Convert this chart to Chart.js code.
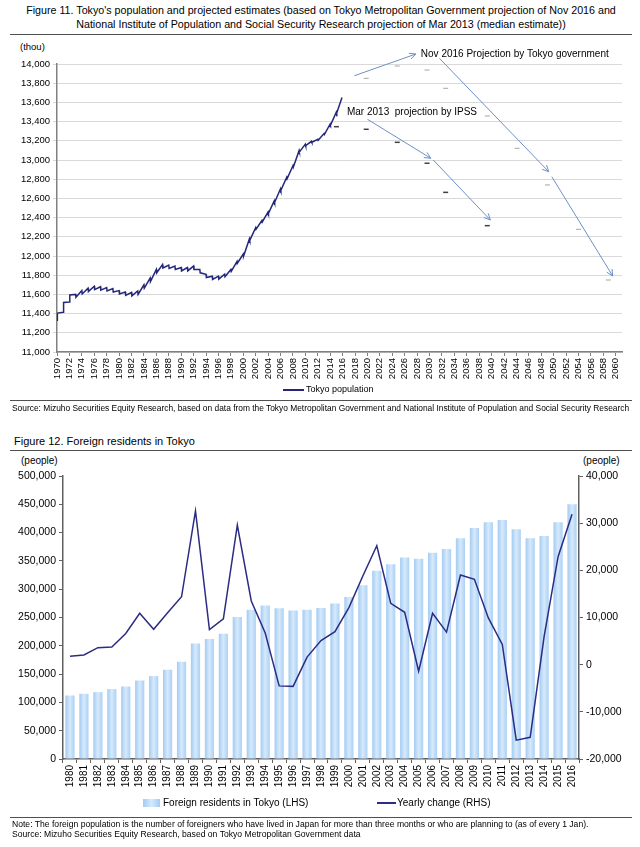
<!DOCTYPE html>
<html>
<head>
<meta charset="utf-8">
<script src="https://cdn.jsdelivr.net/npm/chart.js@4.4.0/dist/chart.umd.min.js"></script>
<style>
body { margin: 0; background: #fff; font-family: "Liberation Sans", Arial, sans-serif; color: #000; }
#page { position: relative; width: 640px; height: 847px; overflow: hidden; }
.txt { position: absolute; white-space: nowrap; }
.rule { position: absolute; left: 10px; width: 622px; height: 0; border-top: 1px solid #505050; }
canvas { position: absolute; left: 0; }
.swatch { position: absolute; }
</style>
</head>
<body>
<div id="page">
  <div class="txt" style="left:0;width:642px;top:3px;text-align:center;font-size:10.7px;line-height:14px;">Figure 11. Tokyo's population and projected estimates (based on Tokyo Metropolitan Government projection of Nov 2016 and<br>National Institute of Population and Social Security Research projection of Mar 2013 (median estimate))</div>
  <div class="rule" style="top:34px"></div>
  <div class="txt" style="left:20px;top:41px;font-size:9.5px;">(thou)</div>
  <canvas id="popChart" width="640" height="352" style="top:36px"></canvas>
  <div class="swatch" style="left:283px;top:389px;width:21px;height:2px;background:#23267a;"></div>
  <div class="txt" style="left:306px;top:384px;font-size:9px;">Tokyo population</div>
  <div class="rule" style="top:400px;border-top-width:1.5px;"></div>
  <div class="txt" style="left:12px;top:403px;font-size:8.4px;">Source: Mizuho Securities Equity Research, based on data from the Tokyo Metropolitan Government and National Institute of Population and Social Security Research</div>

  <div class="txt" style="left:14px;top:435px;font-size:11px;">Figure 12. Foreign residents in Tokyo</div>
  <div class="rule" style="top:450px"></div>
  <div class="txt" style="left:21px;top:455px;font-size:10px;">(people)</div>
  <div class="txt" style="left:583px;top:455px;font-size:10px;">(people)</div>
  <canvas id="foreignChart" width="640" height="346" style="top:452px"></canvas>
  <div class="swatch" style="left:143px;top:799px;width:17px;height:8px;background:linear-gradient(90deg,#a3cbf2,#d5e9fc,#a3cbf2);"></div>
  <div class="txt" style="left:163px;top:797px;font-size:10px;">Foreign residents in Tokyo (LHS)</div>
  <div class="swatch" style="left:377px;top:802px;width:19px;height:2px;background:#2c2c84;"></div>
  <div class="txt" style="left:397px;top:797px;font-size:10px;">Yearly change (RHS)</div>
  <div class="rule" style="top:817px;border-top-width:1.5px;"></div>
  <div class="txt" style="left:12px;top:819px;font-size:8.6px;">Note: The foreign population is the number of foreigners who have lived in Japan for more than three months or who are planning to (as of every 1 Jan).</div>
  <div class="txt" style="left:12px;top:829px;font-size:8.6px;">Source: Mizuho Securities Equity Research, based on Tokyo Metropolitan Government data</div>
</div>
<script>
// Figure 11: Tokyo population (thou), value just before and just after the spring move season, per year
var popYears = [1970, 1971, 1972, 1973, 1974, 1975, 1976, 1977, 1978, 1979,
                1980, 1981, 1982, 1983, 1984, 1985, 1986, 1987, 1988, 1989,
                1990, 1991, 1992, 1993, 1994, 1995, 1996, 1997, 1998, 1999,
                2000, 2001, 2002, 2003, 2004, 2005, 2006, 2007, 2008, 2009,
                2010, 2011, 2012, 2013, 2014, 2015];
var popPre = [11330, 11415, 11520, 11600, 11640, 11665, 11685, 11680, 11670, 11660,
              11640, 11625, 11620, 11635, 11700, 11770, 11860, 11910, 11905, 11895,
              11880, 11880, 11895, 11860, 11810, 11790, 11790, 11810, 11860, 11945,
              12020, 12180, 12295, 12370, 12460, 12575, 12700, 12820, 12940, 13100,
              13165, 13195, 13215, 13275, 13375, 13500];
var popPost = [11405, 11515, 11595, 11570, 11605, 11630, 11650, 11645, 11635, 11625,
               11605, 11590, 11585, 11600, 11665, 11735, 11825, 11875, 11870, 11860,
               11845, 11845, 11860, 11825, 11775, 11755, 11760, 11785, 11840, 11925,
               12000, 12165, 12280, 12355, 12445, 12560, 12685, 12805, 12925, 13085,
               13150, 13185, 13205, 13265, 13365, 13490];
var popLastYear = 2015.9;
var popLast = 13650;

// projections (thou)
var tokyoProjYears = [2019.8, 2024.8, 2029.6, 2032.6, 2039.3, 2044.1, 2049.0, 2054.0, 2058.8];
var tokyoProj = [13851, 13979, 13937, 13747, 13458, 13122, 12740, 12278, 11750];
var ipssYears = [2015.0, 2019.8, 2024.8, 2029.6, 2032.6, 2039.3];
var ipssProj = [13347, 13320, 13184, 12966, 12663, 12316];

// annotation arrows [fromYear, fromValue, toYear, toValue]
var arrowPaths = [
    [2017.9, 13878, 2027.8, 14104],
    [2031.6, 14059, 2049.2, 12878],
    [2049.7, 12826, 2059.5, 11792],
    [2020.0, 13424, 2030.2, 13018],
    [2030.6, 13000, 2039.8, 12375]
];
var arrowNotes = [
    { text: "Nov 2016 Projection by Tokyo government", x: 2028.6, y: 14104 },
    { text: "Mar 2013  projection by IPSS", x: 2016.7, y: 13500 }
];

// Figure 12: foreign residents in Tokyo
var fyYears = ["1980", "1981", "1982", "1983", "1984", "1985", "1986", "1987", "1988", "1989",
               "1990", "1991", "1992", "1993", "1994", "1995", "1996", "1997", "1998", "1999",
               "2000", "2001", "2002", "2003", "2004", "2005", "2006", "2007", "2008", "2009",
               "2010", "2011", "2012", "2013", "2014", "2015", "2016"];
var foreignResidents = [112200, 115200, 118200, 123500, 128100, 138700, 146500, 157600, 171700, 204000,
                        211800, 221100, 251100, 263500, 271100, 266500, 262200, 263500, 267000, 274600,
                        286400, 307000, 332800, 344100, 355800, 354000, 364600, 371100, 390000, 408200,
                        418200, 422300, 405900, 390000, 394000, 418200, 450000];
var yearlyChange = [1770, 2060, 3600, 3760, 6600, 10900, 7500, 11000, 14400, 32600,
                    7450, 9700, 29600, 13500, 6700, -4500, -4600, 1600, 5100, 7000,
                    12100, 18800, 25200, 13000, 11100, -1400, 10900, 6900, 19000, 18100,
                    9900, 4300, -16000, -15400, 6000, 22900, 31900];

var tickFont = { family: "Liberation Sans", size: 9.5 };
var navy = "#23267a";

function _each(arr, fn) { for (var i = 0; i < arr.length; i++) fn(arr[i], i); }

function pairs(xs, ys) {
    var out = [];
    _each(xs, function(v, i) { out.push({ x: v, y: ys[i] }); });
    return out;
}

// build the monthly-looking line from the before/after pairs
var popPoints = [];
_each(popYears, function(yr, i) {
    popPoints.push({ x: yr, y: popPre[i] });
    popPoints.push({ x: yr + 0.06, y: popPost[i] });
});
popPoints.push({ x: popLastYear, y: popLast });

var arrowPlugin = {
    id: "projArrows",
    afterDatasetsDraw: function(chart) {
        var ctx = chart.ctx, xs = chart.scales.x, ys = chart.scales.y;
        ctx.save();
        ctx.strokeStyle = "#6f8fc6";
        ctx.lineWidth = 1;
        _each(arrowPaths, function(a) {
            var x1 = xs.getPixelForValue(a[0]), y1 = ys.getPixelForValue(a[1]);
            var x2 = xs.getPixelForValue(a[2]), y2 = ys.getPixelForValue(a[3]);
            var ang = Math.atan2(y2 - y1, x2 - x1);
            ctx.beginPath();
            ctx.moveTo(x1, y1);
            ctx.lineTo(x2, y2);
            ctx.moveTo(x2 - 7 * Math.cos(ang - 0.45), y2 - 7 * Math.sin(ang - 0.45));
            ctx.lineTo(x2, y2);
            ctx.lineTo(x2 - 7 * Math.cos(ang + 0.45), y2 - 7 * Math.sin(ang + 0.45));
            ctx.stroke();
        });
        ctx.fillStyle = "#000";
        ctx.font = '10px "Liberation Sans"';
        ctx.textBaseline = "middle";
        _each(arrowNotes, function(n) {
            ctx.fillText(n.text, xs.getPixelForValue(n.x), ys.getPixelForValue(n.y));
        });
        ctx.restore();
    }
};

new Chart(document.getElementById("popChart"), {
    type: "line",
    data: {
        datasets: [
            {
                label: "Tokyo population",
                data: popPoints,
                borderColor: navy,
                borderWidth: 1.5,
                pointRadius: 0,
                tension: 0
            },
            {
                label: "Nov 2016 Projection by Tokyo government",
                data: pairs(tokyoProjYears, tokyoProj),
                showLine: false,
                pointStyle: "line",
                pointRadius: 2.5,
                borderColor: "#a6a6a6",
                pointBorderWidth: 1
            },
            {
                label: "Mar 2013 projection by IPSS",
                data: pairs(ipssYears, ipssProj),
                showLine: false,
                pointStyle: "line",
                pointRadius: 2.5,
                borderColor: "#404040",
                pointBorderWidth: 1.5
            }
        ]
    },
    options: {
        responsive: false,
        animation: false,
        layout: { padding: { top: 28, right: 18, left: 0, bottom: 0 } },
        plugins: { legend: { display: false }, tooltip: { enabled: false } },
        scales: {
            x: {
                type: "linear",
                min: 1970,
                max: 2061,
                afterFit: function(scale) { scale.height = 36; },
                grid: { drawOnChartArea: false, tickLength: 4, color: "#808080" },
                border: { color: "#808080", width: 1.5 },
                ticks: {
                    stepSize: 2,
                    includeBounds: false,
                    autoSkip: false,
                    maxRotation: 90,
                    minRotation: 90,
                    padding: 2,
                    color: "#000",
                    font: tickFont,
                    callback: function(v) { return String(v); }
                }
            },
            y: {
                min: 11000,
                max: 14000,
                afterFit: function(scale) { scale.width = 57; },
                grid: { color: "#d9d9d9", tickLength: 4 },
                border: { color: "#808080", width: 1.5 },
                ticks: {
                    stepSize: 200,
                    padding: 3,
                    color: "#000",
                    font: tickFont,
                    callback: function(v) { return v.toLocaleString("en-US"); }
                }
            }
        }
    },
    plugins: [arrowPlugin]
});

var barFont = { family: "Liberation Sans", size: 10.5 };

// light-blue bars shaded across their width, like the original
function barShade(context) {
    var chart = context.chart;
    if (!chart.chartArea || !chart.scales.x) return "#b5d6f6";
    var xc = chart.scales.x.getPixelForValue(context.dataIndex);
    var g = chart.ctx.createLinearGradient(xc - 5, 0, xc + 5, 0);
    g.addColorStop(0, "#9fc8f1");
    g.addColorStop(0.5, "#d6eafc");
    g.addColorStop(1, "#a8cef3");
    return g;
}

new Chart(document.getElementById("foreignChart"), {
    type: "bar",
    data: {
        labels: fyYears,
        datasets: [
            {
                type: "line",
                label: "Yearly change (RHS)",
                data: yearlyChange,
                yAxisID: "y1",
                borderColor: "#2c2c84",
                borderWidth: 1.5,
                pointRadius: 0,
                tension: 0,
                order: 0
            },
            {
                label: "Foreign residents in Tokyo (LHS)",
                data: foreignResidents,
                yAxisID: "y",
                backgroundColor: barShade,
                categoryPercentage: 1,
                barPercentage: 0.66,
                order: 1
            }
        ]
    },
    options: {
        responsive: false,
        animation: false,
        layout: { padding: { top: 24, right: 0, left: 0, bottom: 0 } },
        plugins: { legend: { display: false }, tooltip: { enabled: false } },
        scales: {
            x: {
                afterFit: function(scale) { scale.height = 39; },
                grid: { drawOnChartArea: false, tickLength: 4, color: "#606060" },
                border: { color: "#606060", width: 1.5 },
                ticks: {
                    autoSkip: false,
                    maxRotation: 90,
                    minRotation: 90,
                    padding: 2,
                    color: "#000",
                    font: { family: "Liberation Sans", size: 10 }
                }
            },
            y: {
                position: "left",
                min: 0,
                max: 500000,
                afterFit: function(scale) { scale.width = 63; },
                grid: { drawOnChartArea: false, tickLength: 4, color: "#606060" },
                border: { color: "#606060", width: 1.5 },
                ticks: {
                    stepSize: 50000,
                    padding: 3,
                    color: "#000",
                    font: barFont,
                    callback: function(v) { return v.toLocaleString("en-US"); }
                }
            },
            y1: {
                position: "right",
                min: -20000,
                max: 40000,
                afterFit: function(scale) { scale.width = 61; },
                grid: { drawOnChartArea: false, tickLength: 4, color: "#606060" },
                border: { color: "#606060", width: 1.5 },
                ticks: {
                    stepSize: 10000,
                    padding: 3,
                    color: "#000",
                    font: barFont,
                    callback: function(v) { return v.toLocaleString("en-US"); }
                }
            }
        }
    }
});
</script>
</body>
</html>
